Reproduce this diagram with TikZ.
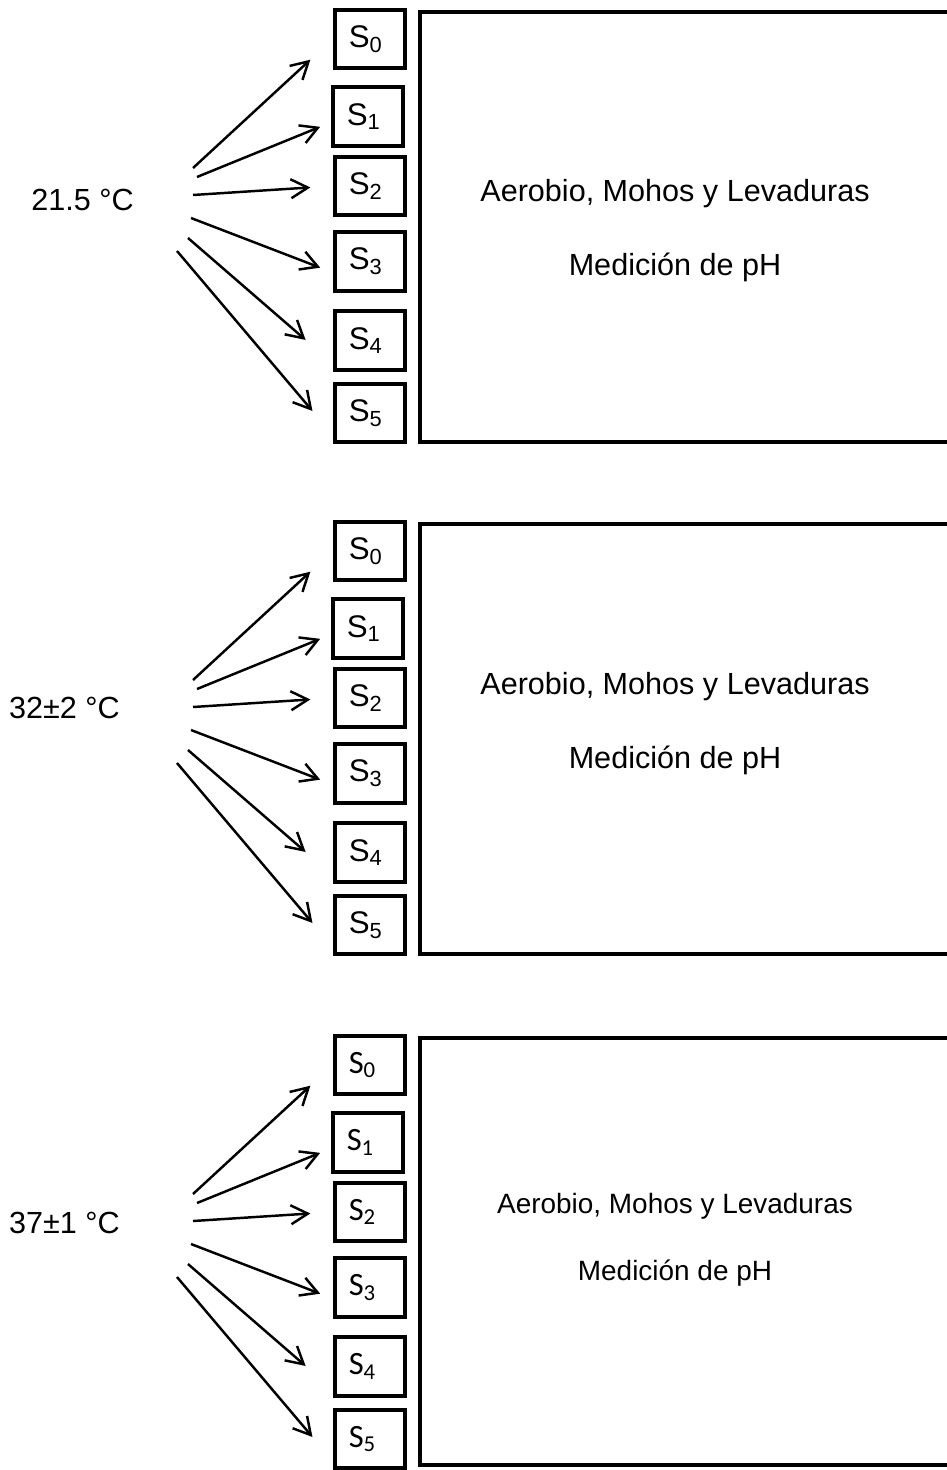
\documentclass[tikz,border=0pt]{standalone}
\usepackage{fontspec}
\setmainfont{Liberation Sans}
\newfontfamily\calibfont{Carlito}
\usetikzlibrary{arrows.meta}

\begin{document}
\begin{tikzpicture}[x=0.2mm, y=-0.2mm,
  sbox/.style={draw, line width=2.2pt, text width=8.5mm, align=left, inner xsep=2.8mm, inner ysep=0pt, minimum height=11.7mm, font=\fontsize{17.8}{20}\selectfont},
  sboxc/.style={sbox, font=\calibfont\fontsize{18.5}{21}\selectfont},
  arr/.style={-{Straight Barb[length=3.4mm, width=3.8mm]}, line width=1.4pt},
  bigbox/.style={line width=2.2pt},
  txt/.style={font=\fontsize{17.4}{20}\selectfont},
  txtsm/.style={font=\fontsize{15.9}{19}\selectfont}]
  \useasboundingbox (0,0) rectangle (947,1470);

  % 21.5 °C
  \begin{scope}
    % Samples
    \node[sbox] (a0) at (370,39) {S\textsubscript{0}};
    \node[sbox] (a1) at (368,116.5) {S\textsubscript{1}};
    \node[sbox] (a2) at (370,186) {S\textsubscript{2}};
    \node[sbox] (a3) at (370,261.5) {S\textsubscript{3}};
    \node[sbox] (a4) at (370,340.5) {S\textsubscript{4}};
    \node[sbox] (a5) at (370,413) {S\textsubscript{5}};

    % Analyses
    \draw[bigbox] (420,12) rectangle (960,442);
    \node[txt, anchor=base] (aaer) at (675,202) {Aerobio, Mohos y Levaduras};
    \node[txt, anchor=base] (aph) at (675,276) {Medición de pH};

    % Temperature and arrows
    \node[txt] (atemp) at (82.5,200) {21.5 °C};
    \coordinate (af0) at (193,168);
    \coordinate (af1) at (197,177);
    \coordinate (af2) at (193,195);
    \coordinate (af3) at (191,218);
    \coordinate (af4) at (188,238);
    \coordinate (af5) at (177,251);
    \draw[arr, shorten >=6.1mm] (af0) -- (a0.west);
    \draw[arr, shorten >=2.3mm] (af1) -- ([yshift=-1.2mm]a1.west);
    \draw[arr, shorten >=4.5mm] (af2) -- (a2.west);
    \draw[arr, shorten >=2.7mm] (af3) -- ([yshift=-2.2mm]a3.west);
    \draw[arr, shorten >=7.2mm] (af4) -- ([yshift=-4.6mm]a4.west);
    \draw[arr, shorten >=6.3mm] (af5) -- ([yshift=-4.4mm]a5.west);
  \end{scope}

  % 32±2 °C
  \begin{scope}[yshift=-102.4mm]
    % Samples
    \node[sbox] (b0) at (370,39) {S\textsubscript{0}};
    \node[sbox] (b1) at (368,116.5) {S\textsubscript{1}};
    \node[sbox] (b2) at (370,186) {S\textsubscript{2}};
    \node[sbox] (b3) at (370,261.5) {S\textsubscript{3}};
    \node[sbox] (b4) at (370,340.5) {S\textsubscript{4}};
    \node[sbox] (b5) at (370,413) {S\textsubscript{5}};

    % Analyses
    \draw[bigbox] (420,12) rectangle (960,442);
    \node[txt, anchor=base] (baer) at (675,182) {Aerobio, Mohos y Levaduras};
    \node[txt, anchor=base] (bph) at (675,256) {Medición de pH};

    % Temperature and arrows
    \node[txt] (btemp) at (64.5,196) {32±2 °C};
    \coordinate (bf0) at (193,168);
    \coordinate (bf1) at (197,177);
    \coordinate (bf2) at (193,195);
    \coordinate (bf3) at (191,218);
    \coordinate (bf4) at (188,238);
    \coordinate (bf5) at (177,251);
    \draw[arr, shorten >=6.1mm] (bf0) -- (b0.west);
    \draw[arr, shorten >=2.3mm] (bf1) -- ([yshift=-1.2mm]b1.west);
    \draw[arr, shorten >=4.5mm] (bf2) -- (b2.west);
    \draw[arr, shorten >=2.7mm] (bf3) -- ([yshift=-2.2mm]b3.west);
    \draw[arr, shorten >=7.2mm] (bf4) -- ([yshift=-4.6mm]b4.west);
    \draw[arr, shorten >=6.3mm] (bf5) -- ([yshift=-4.4mm]b5.west);
  \end{scope}

  % 37±1 °C
  \begin{scope}[yshift=-205.2mm]
    % Samples
    \node[sboxc] (c0) at (370,39) {S\textsubscript{0}};
    \node[sboxc] (c1) at (368,116.5) {S\textsubscript{1}};
    \node[sboxc] (c2) at (370,186) {S\textsubscript{2}};
    \node[sboxc] (c3) at (370,261.5) {S\textsubscript{3}};
    \node[sboxc] (c4) at (370,340.5) {S\textsubscript{4}};
    \node[sboxc] (c5) at (370,413) {S\textsubscript{5}};

    % Analyses
    \draw[bigbox] (420,12) rectangle (960,439);
    \node[txtsm, anchor=base] (caer) at (675,187) {Aerobio, Mohos y Levaduras};
    \node[txtsm, anchor=base] (cph) at (675,254) {Medición de pH};

    % Temperature and arrows
    \node[txt] (ctemp) at (64.5,197) {37±1 °C};
    \coordinate (cf0) at (193,168);
    \coordinate (cf1) at (197,177);
    \coordinate (cf2) at (193,195);
    \coordinate (cf3) at (191,218);
    \coordinate (cf4) at (188,238);
    \coordinate (cf5) at (177,251);
    \draw[arr, shorten >=6.1mm] (cf0) -- (c0.west);
    \draw[arr, shorten >=2.3mm] (cf1) -- ([yshift=-1.2mm]c1.west);
    \draw[arr, shorten >=4.5mm] (cf2) -- (c2.west);
    \draw[arr, shorten >=2.7mm] (cf3) -- ([yshift=-2.2mm]c3.west);
    \draw[arr, shorten >=7.2mm] (cf4) -- ([yshift=-4.6mm]c4.west);
    \draw[arr, shorten >=6.3mm] (cf5) -- ([yshift=-4.4mm]c5.west);
  \end{scope}
\end{tikzpicture}
\end{document}
